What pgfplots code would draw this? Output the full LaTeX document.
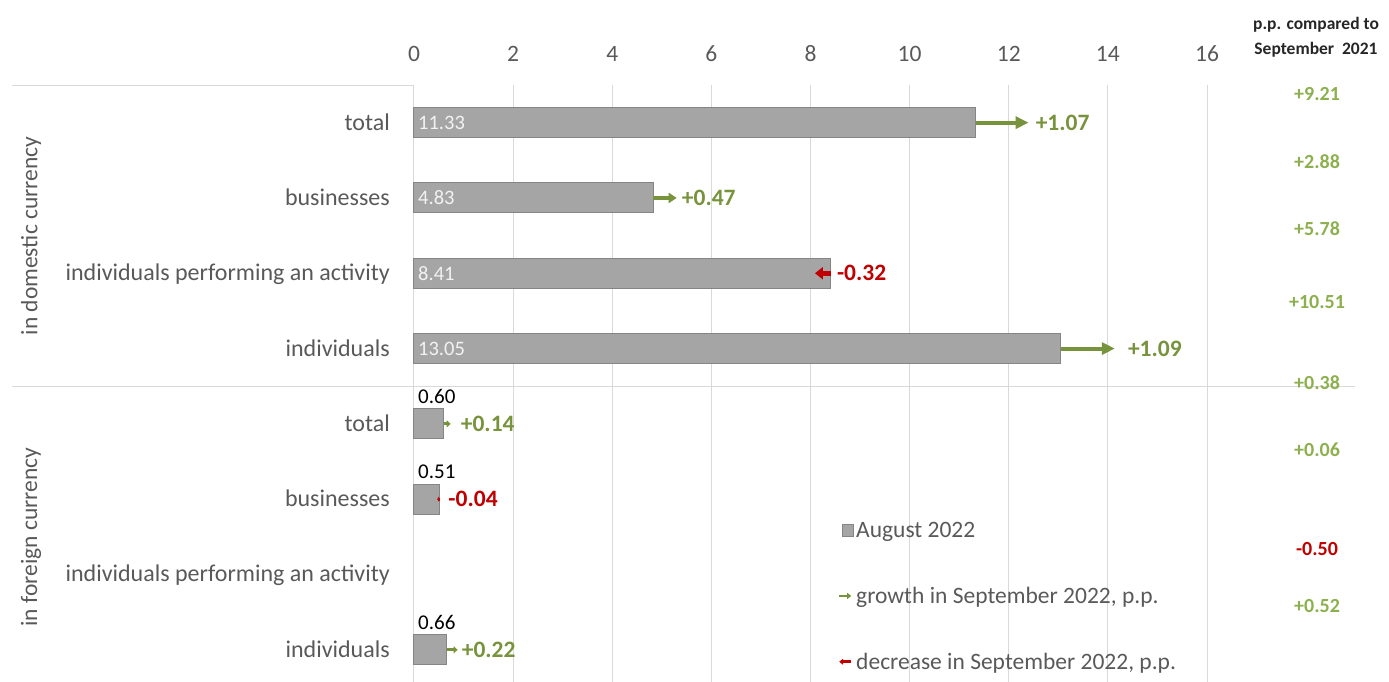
\documentclass[border=0pt]{standalone}
\usepackage{pgfplots}
\pgfplotsset{compat=1.18}
\usepackage{fontspec}
\setmainfont{Carlito}
\usetikzlibrary{arrows.meta}
\definecolor{barf}{HTML}{A5A5A5}
\definecolor{bard}{HTML}{858585}
\definecolor{gridc}{HTML}{D9D9D9}
\definecolor{txt}{HTML}{595959}
\definecolor{grn}{HTML}{77933C}
\definecolor{lgrn}{HTML}{8DB04E}
\definecolor{rd}{HTML}{C00000}
\newcommand\fsz[1]{\fontsize{#1pt}{#1pt}\selectfont}
\begin{document}
\begin{tikzpicture}
\useasboundingbox (0,0) rectangle (1389pt,682pt);
\begin{axis}[
  at={(414pt,0pt)}, anchor=south west,
  scale only axis, width=793pt, height=597pt,
  xmin=0, xmax=16, ymin=0.5, ymax=8.428,
  y dir=reverse,
  axis line style={draw=none},
  xmajorgrids, grid style={draw=gridc, line width=1pt},
  xtick={0,2,...,16},
  xticklabel pos=upper,
  major tick length=0pt,
  tick style={draw=none},
  /pgf/number format/assume math mode=true,
  xticklabel style={font=\fsz{23.5}, text=txt, anchor=base, yshift=23.3pt, inner sep=0pt},
  ytick={1,...,8},
  yticklabels={total,businesses,individuals performing an activity,individuals,total,businesses,individuals performing an activity,individuals},
  yticklabel style={font=\fsz{24}, text=txt, anchor=base east, inner sep=0pt, xshift=-24pt, yshift=-7.5pt},
  clip=false,
  legend style={draw=none, fill=none, inner sep=0pt, at={(axis cs:8.55,6.304)}, anchor=north west,
    font=\fsz{23.5}, text=txt, row sep=48pt, nodes={inner sep=0pt},
    /tikz/every even column/.append style={column sep=3pt}},
  legend cell align=left,
]
% frame lines
\draw[gridc, line width=1pt] (axis cs:-8.11,0.5) -- (axis cs:0,0.5);
\draw[gridc, line width=1pt] (axis cs:-8.11,4.5) -- (axis cs:18.99,4.5);
% bars (August 2022)
\addplot[xbar, bar width=30pt, fill=barf, draw=bard, line width=1pt, forget plot]
  coordinates {(11.33,1) (4.83,2) (8.41,3) (13.05,4) (0.60,5) (0.51,6) (0.66,8)};
% change in September 2022 (arrows)
\addplot[grn, line width=4pt, -{Triangle[length=13pt,width=12pt]}, quiver={u=\thisrow{u},v=0}, forget plot]
  table[row sep=\\] {x y u\\ 11.33 1 1.07\\ 13.05 4 1.09\\};
\addplot[grn, line width=3.5pt, -{Triangle[length=8pt,width=10pt]}, quiver={u=\thisrow{u},v=0}, forget plot]
  table[row sep=\\] {x y u\\ 4.83 2 0.47\\};
\addplot[grn, line width=3pt, -{Triangle[length=4pt,width=7pt]}, quiver={u=\thisrow{u},v=0}, forget plot]
  table[row sep=\\] {x y u\\ 0.60 5 0.14\\ 0.66 8 0.22\\};
\addplot[rd, line width=4.5pt, -{Triangle[length=8pt,width=12pt]}, quiver={u=\thisrow{u},v=0}, forget plot]
  table[row sep=\\] {x y u\\ 8.41 3 -0.32\\};
\addplot[rd, line width=3pt, -{Triangle[length=1.5pt,width=5pt]}, quiver={u=\thisrow{u},v=0}, forget plot]
  table[row sep=\\] {x y u\\ 0.51 6 -0.04\\};
% value labels
\begin{scope}[every node/.style={font=\fsz{20.5}, text=white!95!black, anchor=west, xshift=4pt, inner sep=0pt}]
\node at (axis cs:0,1) {11.33};
\node at (axis cs:0,2) {4.83};
\node at (axis cs:0,3) {8.41};
\node at (axis cs:0,4) {13.05};
\end{scope}
\begin{scope}[every node/.style={font=\fsz{21}, text=black, anchor=west, xshift=4pt, yshift=27pt, inner sep=0pt}]
\node at (axis cs:0,5) {0.60};
\node at (axis cs:0,6) {0.51};
\node at (axis cs:0,8) {0.66};
\end{scope}
% change labels
\begin{scope}[every node/.style={font=\bfseries\fsz{23.5}, anchor=west, inner sep=0pt}]
\node[text=grn, xshift=7pt] at (axis cs:12.40,1) {+1.07};
\node[text=grn, xshift=5pt] at (axis cs:5.30,2) {+0.47};
\node[text=rd, xshift=6pt] at (axis cs:8.41,3) {-0.32};
\node[text=grn, xshift=13pt] at (axis cs:14.14,4) {+1.09};
\node[text=grn, xshift=10pt] at (axis cs:0.74,5) {+0.14};
\node[text=rd, xshift=9pt] at (axis cs:0.51,6) {-0.04};
\node[text=grn, xshift=4pt] at (axis cs:0.88,8) {+0.22};
\end{scope}
% p.p. compared to September 2021
\begin{scope}[every node/.style={font=\bfseries\fsz{20}, text=lgrn, inner sep=0pt}]
\node at (axis cs:18.22,0.613) {+9.21};
\node at (axis cs:18.22,1.523) {+2.88};
\node at (axis cs:18.22,2.412) {+5.78};
\node at (axis cs:18.22,3.388) {+10.51};
\node at (axis cs:18.22,4.457) {+0.38};
\node at (axis cs:18.22,5.347) {+0.06};
\node[text=rd] at (axis cs:18.22,6.662) {-0.50};
\node at (axis cs:18.22,7.419) {+0.52};
\end{scope}
% legend
\addlegendimage{legend image code/.code={\path[draw=none,fill=none] (0pt,-6pt) rectangle (17pt,6pt); \draw[draw=bard, fill=barf, line width=0.8pt] (3pt,-6pt) rectangle (14.5pt,6pt);}}
\addlegendentry{August 2022}
\addlegendimage{legend image code/.code={\path[draw=none,fill=none] (0pt,-6pt) rectangle (17pt,6pt); \draw[grn, line width=2.5pt, -{Triangle[length=4pt,width=6pt]}] (0pt,0pt) -- (12pt,0pt);}}
\addlegendentry{growth in September 2022, p.p.}
\addlegendimage{legend image code/.code={\path[draw=none,fill=none] (0pt,-6pt) rectangle (17pt,6pt); \draw[rd, line width=2.5pt, -{Triangle[length=4pt,width=6pt]}] (12pt,0pt) -- (0pt,0pt);}}
\addlegendentry{decrease in September 2022, p.p.}
\end{axis}
\node[font=\bfseries\fsz{17.5}, text=black!85, anchor=base] at (1316pt,652pt) {p.p. compared to};
\node[font=\bfseries\fsz{17.5}, text=black!85, anchor=base] at (1316pt,627pt) {September~~2021};
\node[rotate=90, font=\fsz{23.5}, text=txt] at (31pt,446pt) {in domestic currency};
\node[rotate=90, font=\fsz{23.5}, text=txt] at (31pt,145pt) {in foreign currency};
\end{tikzpicture}
\end{document}
